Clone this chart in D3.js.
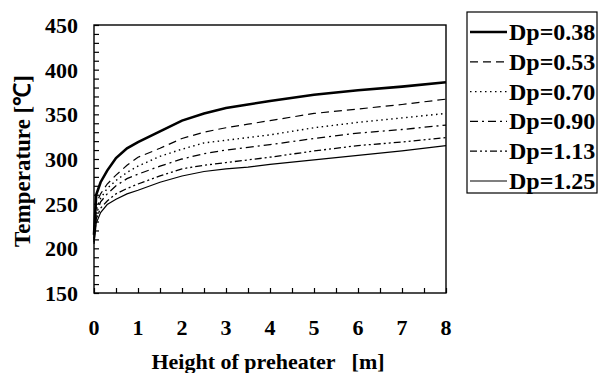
<!DOCTYPE html>
<html>
<head>
<meta charset="utf-8">
<script src="https://cdn.jsdelivr.net/npm/d3@7"></script>
<style>
body { margin: 0; background: #fff; }
text { font-family: "Liberation Serif", "Times New Roman", serif; font-weight: bold; fill: #000; }
</style>
</head>
<body>
<svg id="graph"></svg>
<script>
//Chart data
var heights = [0, 0.05, 0.15, 0.3, 0.5, 0.75, 1, 1.5, 2, 2.5, 3, 3.5, 4, 5, 6, 7, 8];
var dp038 = [215, 260, 274, 287, 301, 312, 319, 331, 343, 351, 357, 361, 365, 372, 377, 381, 386];
var dp053 = [213, 250, 261, 272, 282, 293, 302, 312, 323, 330, 335, 339, 343, 351, 356, 361, 367];
var dp070 = [211, 243, 256, 267, 276, 285, 292, 303, 311, 318, 321, 324, 327, 335, 341, 346, 351];
var dp090 = [209, 238, 252, 261, 270, 278, 283, 292, 300, 306, 310, 313, 316, 323, 329, 333, 338];
var dp113 = [207, 233, 245, 253, 261, 267, 272, 281, 289, 293, 296, 299, 302, 309, 315, 319, 324];
var dp125 = [205, 228, 240, 249, 255, 261, 265, 274, 281, 286, 289, 291, 294, 299, 304, 309, 315];
var seriesNames = ["Dp=0.38", "Dp=0.53", "Dp=0.70", "Dp=0.90", "Dp=1.13", "Dp=1.25"];
var xTicks = [0, 1, 2, 3, 4, 5, 6, 7, 8];
var yTicks = [150, 200, 250, 300, 350, 400, 450];

var seriesValues = [dp038, dp053, dp070, dp090, dp113, dp125];
//Line styles for each series
var styles = [
    {w: 2.6, dash: null},
    {w: 1.2, dash: "8,5"},
    {w: 1.4, dash: "1.5,3.5"},
    {w: 1.3, dash: "8,4,2,4"},
    {w: 1.3, dash: "7,3,2,3,2,3"},
    {w: 1.2, dash: null}
];

var screen = {width: 599, height: 373};
var plot = {left: 94, top: 25, right: 446, bottom: 293};

var svg = d3.select("#graph")
    .attr("width", screen.width)
    .attr("height", screen.height);

//Define scales
var xScale = d3.scaleLinear()
    .domain([0, 8])
    .range([plot.left, plot.right]);

var yScale = d3.scaleLinear()
    .domain([150, 450])
    .range([plot.bottom, plot.top]);

//Frame
svg.append("rect")
    .attr("x", plot.left)
    .attr("y", plot.top)
    .attr("width", plot.right - plot.left)
    .attr("height", plot.bottom - plot.top)
    .attr("fill", "none")
    .attr("stroke", "#000")
    .attr("stroke-width", 1.4);

//Inward ticks
var xAxis = d3.axisBottom(xScale)
    .tickValues(d3.range(0, 8.01, 0.5))
    .tickSize(-5)
    .tickFormat("");
svg.append("g")
    .attr("transform", "translate(0," + plot.bottom + ")")
    .call(xAxis)
    .call(function(g){ g.select(".domain").remove(); })
    .selectAll("line").attr("stroke-width", 1.2);

var yAxis = d3.axisLeft(yScale)
    .tickValues(d3.range(150, 451, 10))
    .tickSize(-5)
    .tickFormat("");
svg.append("g")
    .attr("transform", "translate(" + plot.left + ",0)")
    .call(yAxis)
    .call(function(g){ g.select(".domain").remove(); })
    .selectAll("line").attr("stroke-width", 1.2);

//Tick labels
svg.selectAll(".xlab")
    .data(xTicks)
    .enter()
    .append("text")
    .attr("x", function(d){ return xScale(d); })
    .attr("y", 335)
    .attr("text-anchor", "middle")
    .style("font-size", "22px")
    .text(function(d){ return d; });

svg.selectAll(".ylab")
    .data(yTicks)
    .enter()
    .append("text")
    .attr("x", 78)
    .attr("y", function(d){ return yScale(d) + 8; })
    .attr("text-anchor", "end")
    .style("font-size", "22px")
    .text(function(d){ return d; });

//Axis titles
svg.append("text")
    .attr("x", 268)
    .attr("y", 369)
    .attr("text-anchor", "middle")
    .style("font-size", "22px")
    .style("white-space", "pre")
    .text("Height of preheater   [m]");

svg.append("text")
    .attr("transform", "translate(22,161) rotate(-90)")
    .attr("dy", "0.35em")
    .attr("text-anchor", "middle")
    .style("font-size", "23px")
    .text("Temperature [℃]");

//Draw lines
var line = d3.line()
    .x(function(d, i){ return xScale(heights[i]); })
    .y(function(d){ return yScale(d); });

svg.selectAll(".series")
    .data(seriesValues)
    .enter()
    .append("path")
    .attr("d", line)
    .attr("fill", "none")
    .attr("stroke", "#000")
    .attr("stroke-width", function(d, i){ return styles[i].w; })
    .attr("stroke-dasharray", function(d, i){ return styles[i].dash; });

//Legend
var legend = svg.append("g");
legend.append("rect")
    .attr("x", 467)
    .attr("y", 12)
    .attr("width", 130)
    .attr("height", 181)
    .attr("fill", "none")
    .attr("stroke", "#000")
    .attr("stroke-width", 1.2);

var rows = legend.selectAll(".row")
    .data(seriesNames)
    .enter()
    .append("g")
    .attr("transform", function(d, i){ return "translate(0," + (32 + i * 29.8) + ")"; });

rows.append("line")
    .attr("x1", 470)
    .attr("x2", 507)
    .attr("stroke", "#000")
    .attr("stroke-width", function(d, i){ return styles[i].w; })
    .attr("stroke-dasharray", function(d, i){ return styles[i].dash; });

rows.append("text")
    .attr("x", 509)
    .attr("y", 8)
    .style("font-size", "24px")
    .text(function(d){ return d; });
</script>
</body>
</html>
